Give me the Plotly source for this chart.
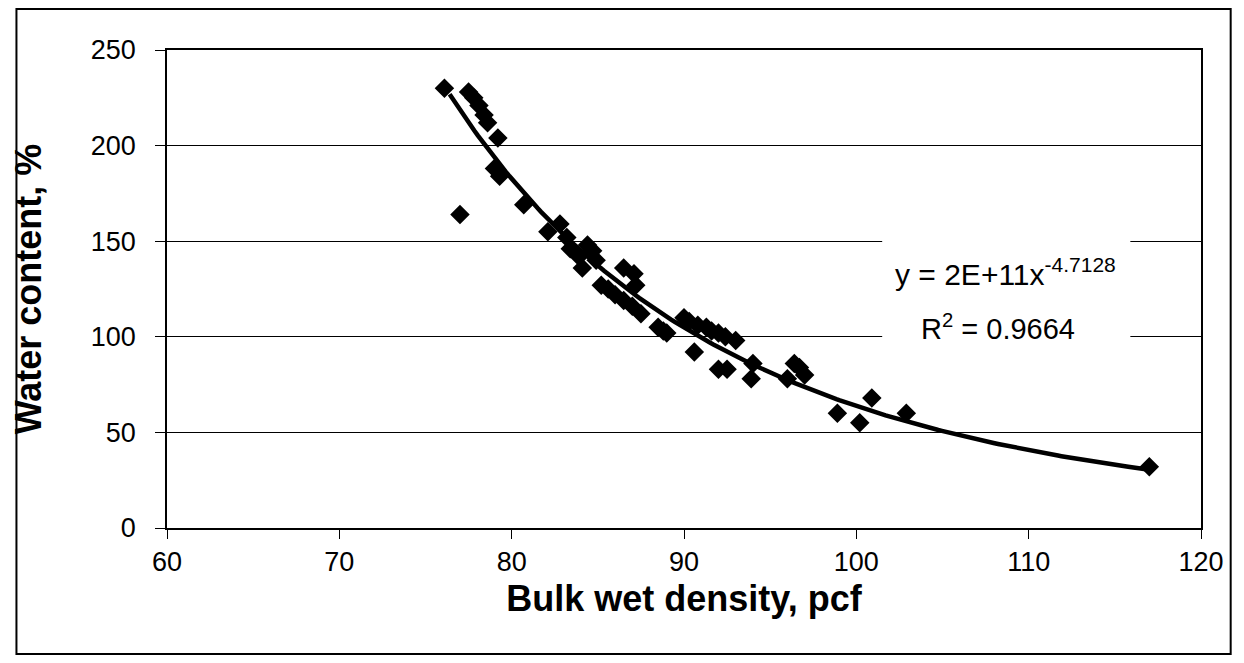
import plotly.graph_objects as go
import numpy as np

# Data (bulk wet density pcf, water content %)
density = [76.1, 77.5, 77.8, 78.1, 78.4, 78.6, 79.2, 79.0, 79.3, 77.0,
           80.7, 82.1, 82.8, 83.2, 83.4, 83.9, 84.4, 84.7, 84.1, 84.9,
           85.2, 85.6, 86.0, 86.5, 87.0, 87.5, 86.5, 87.1, 87.2, 88.5,
           89.0, 88.8, 90.0, 90.3, 90.8, 91.3, 91.6, 92.0, 92.4, 93.0,
           90.6, 92.0, 92.5, 94.0, 93.9, 96.0, 96.4, 96.7, 97.0, 98.9,
           100.2, 100.9, 102.9, 117.0]
water = [230, 228, 225, 221, 216, 212, 204, 188, 184, 164,
         169, 155, 159, 152, 146, 142, 148, 145, 136, 140,
         127, 125, 122, 119, 116, 112, 136, 133, 127, 105,
         102, 103, 110, 108, 106, 105, 103, 102, 100, 98,
         92, 83, 83, 86, 78, 78, 86, 84, 80, 60,
         55, 68, 60, 32]

trend_coef = 1.7e11
trend_exp = -4.7128
x_ticks = [60, 70, 80, 90, 100, 110, 120]
y_ticks = [0, 50, 100, 150, 200, 250]

xt = np.linspace(76.4, max(density), 200)
yt = trend_coef * xt ** trend_exp

FONT = "Liberation Sans, Arial, sans-serif"

fig = go.Figure()
fig.add_trace(go.Scatter(x=density, y=water, mode="markers",
                         marker=dict(symbol="diamond", size=15, color="black"),
                         showlegend=False))
fig.add_trace(go.Scatter(x=xt, y=yt, mode="lines",
                         line=dict(color="black", width=4.5), showlegend=False))

fig.update_layout(
    width=1228, height=647,
    margin=dict(l=153, r=31, t=42, b=127),
    paper_bgcolor="white", plot_bgcolor="white",
    font=dict(family=FONT, size=27, color="black"),
    xaxis=dict(range=[60, 120], tickvals=x_ticks, showgrid=False,
               showline=True, linecolor="black", linewidth=1.5, mirror=True,
               ticks="outside", ticklen=9, tickcolor="black",
               tickfont=dict(family=FONT, size=27, color="black"),
               zeroline=False,
               title=dict(text="<b>Bulk wet density, pcf</b>",
                          font=dict(family=FONT, size=36, color="black"),
                          standoff=10)),
    yaxis=dict(range=[0, 250], tickvals=y_ticks, showgrid=True,
               gridcolor="black", gridwidth=1,
               showline=True, linecolor="black", linewidth=1.5, mirror=True,
               ticks="outside", ticklen=10, tickcolor="black",
               ticklabelstandoff=14,
               tickfont=dict(family=FONT, size=27, color="black"),
               zeroline=False,
               title=dict(text="<b>Water content, %</b>",
                          font=dict(family=FONT, size=36, color="black"),
                          standoff=46)),
)

# white box behind trendline label
fig.add_shape(type="rect", xref="x", yref="y", x0=101.5, x1=115.9, y0=96, y1=152,
              fillcolor="white", line=dict(width=0), layer="above")
fig.add_annotation(x=108.68, y=134, xref="x", yref="y", showarrow=False,
                   text="y = 2E+11x<sup>-4.7128</sup>",
                   font=dict(family=FONT, size=30, color="black"))
fig.add_annotation(x=108.2, y=105, xref="x", yref="y", showarrow=False,
                   text="R<sup>2</sup> = 0.9664",
                   font=dict(family=FONT, size=29, color="black"))

# outer frame
fig.add_shape(type="rect", xref="paper", yref="paper",
              x0=-0.1456, x1=1.0287, y0=-0.2636, y1=1.0858,
              line=dict(color="black", width=2), fillcolor="rgba(0,0,0,0)")

fig.write_html("out.html")
